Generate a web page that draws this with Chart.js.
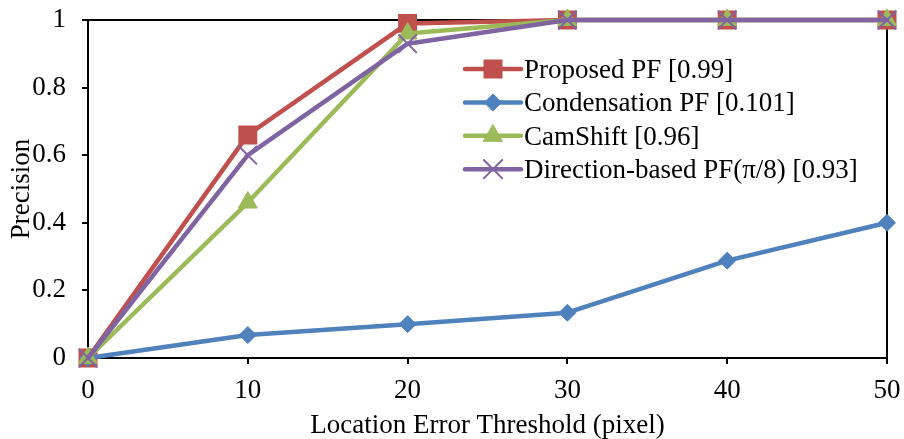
<!DOCTYPE html>
<html>
<head>
<meta charset="utf-8">
<script src="https://cdn.jsdelivr.net/npm/chart.js@4.4.1/dist/chart.umd.min.js"></script>
<style>
html, body { margin: 0; padding: 0; background: #fff; }
</style>
</head>
<body>
<canvas id="grafica" width="904" height="439"></canvas>
<script>
// umbral de error (pixel) y precision de cada metodo
const umbrales = [0, 10, 20, 30, 40, 50];
const proposedPF = [0, 0.66, 0.99, 1, 1, 1];
const condensationPF = [0, 0.068, 0.10, 0.134, 0.288, 0.40];
const camShift = [0, 0.46, 0.96, 1, 1, 1];
const directionPF = [0, 0.60, 0.93, 1, 1, 1];
const nombres = ['Proposed PF [0.99]', 'Condensation PF [0.101]', 'CamShift [0.96]', 'Direction-based PF(\u03c0/8) [0.93]'];

const fuente = '"Liberation Serif", "Times New Roman", serif';
const tam = 27;

function serie(label, data, color, estilo, radio, borde, orden) {
    return {
        label: label,
        data: data,
        borderColor: color,
        backgroundColor: color,
        borderWidth: 4.5,
        borderCapStyle: 'round',
        borderJoinStyle: 'round',
        tension: 0,
        pointStyle: estilo,
        pointRadius: radio,
        pointHoverRadius: radio,
        pointBackgroundColor: color,
        pointBorderColor: color,
        pointBorderWidth: borde,
        clip: false,
        order: orden
    };
}

// marco superior y derecho del area de grafica
const marco = {
    id: 'marco',
    beforeDatasetsDraw(chart) {
        const ctx = chart.ctx;
        const a = chart.chartArea;
        ctx.save();
        ctx.strokeStyle = '#000';
        ctx.lineWidth = 2;
        ctx.beginPath();
        ctx.moveTo(a.left, a.top);
        ctx.lineTo(a.right, a.top);
        ctx.lineTo(a.right, a.bottom);
        ctx.stroke();
        ctx.restore();
    }
};

// leyenda con linea + marcador, como en Excel
const leyenda = {
    id: 'leyenda',
    afterDraw(chart) {
        const ctx = chart.ctx;
        const a = chart.chartArea;
        const x0 = a.left + 377;
        const y0 = a.top + 49;
        const paso = 33.4;
        ctx.save();
        ctx.font = tam + 'px ' + fuente;
        ctx.textBaseline = 'middle';
        chart.data.datasets.forEach((ds, i) => {
            const y = y0 + i * paso;
            ctx.strokeStyle = ds.borderColor;
            ctx.lineWidth = ds.borderWidth;
            ctx.lineCap = 'round';
            ctx.beginPath();
            ctx.moveTo(x0, y);
            ctx.lineTo(x0 + 56, y);
            ctx.stroke();
            ctx.fillStyle = ds.pointBackgroundColor;
            ctx.strokeStyle = ds.pointBorderColor;
            ctx.lineWidth = ds.pointBorderWidth;
            Chart.helpers.drawPoint(ctx, {
                pointStyle: ds.pointStyle,
                radius: ds.pointRadius,
                borderWidth: ds.pointBorderWidth,
                rotation: 0
            }, x0 + 28, y);
            ctx.fillStyle = '#000';
            ctx.fillText(ds.label, x0 + 59, y + 2);
        });
        ctx.restore();
    }
};

const ctx = document.getElementById('grafica').getContext('2d');
new Chart(ctx, {
    type: 'line',
    data: {
        labels: umbrales,
        datasets: [
            serie(nombres[0], proposedPF, '#C0504D', 'rect', 12, 2, 3),
            serie(nombres[1], condensationPF, '#4F81BD', 'rectRot', 8.5, 1, 2),
            serie(nombres[2], camShift, '#9BBB59', 'triangle', 11, 1, 1),
            serie(nombres[3], directionPF, '#8064A2', 'crossRot', 13, 2, 0)
        ]
    },
    options: {
        responsive: false,
        animation: false,
        devicePixelRatio: 1,
        layout: { padding: { top: 20, right: 17, left: 0, bottom: 0 } },
        plugins: {
            legend: { display: false },
            tooltip: { enabled: false }
        },
        scales: {
            x: {
                afterFit(scale) {
                    scale.height = 81;
                    scale.paddingLeft = 0;
                    scale.paddingRight = 0;
                },
                grid: { drawOnChartArea: false, drawTicks: true, tickLength: 6, color: '#000', lineWidth: 2 },
                border: { display: true, color: '#000', width: 2 },
                ticks: { color: '#000', font: { family: fuente, size: tam }, padding: 11, maxRotation: 0 },
                title: {
                    display: true,
                    text: 'Location Error Threshold (pixel)',
                    color: '#000',
                    font: { family: fuente, size: tam },
                    padding: { top: 0, bottom: -3 }
                }
            },
            y: {
                min: 0,
                max: 1,
                afterFit(scale) {
                    scale.width = 88;
                    scale.paddingTop = 0;
                    scale.paddingBottom = 0;
                },
                grid: { drawOnChartArea: false, drawTicks: true, tickLength: 6, color: '#000', lineWidth: 2 },
                border: { display: true, color: '#000', width: 2 },
                ticks: {
                    stepSize: 0.2,
                    color: '#000',
                    font: { family: fuente, size: tam },
                    padding: 16,
                    callback: v => String(+v.toFixed(1))
                },
                title: {
                    display: true,
                    text: 'Precision',
                    color: '#000',
                    font: { family: fuente, size: tam },
                    padding: { top: 6, bottom: 0 }
                }
            }
        }
    },
    plugins: [marco, leyenda]
});
</script>
</body>
</html>
